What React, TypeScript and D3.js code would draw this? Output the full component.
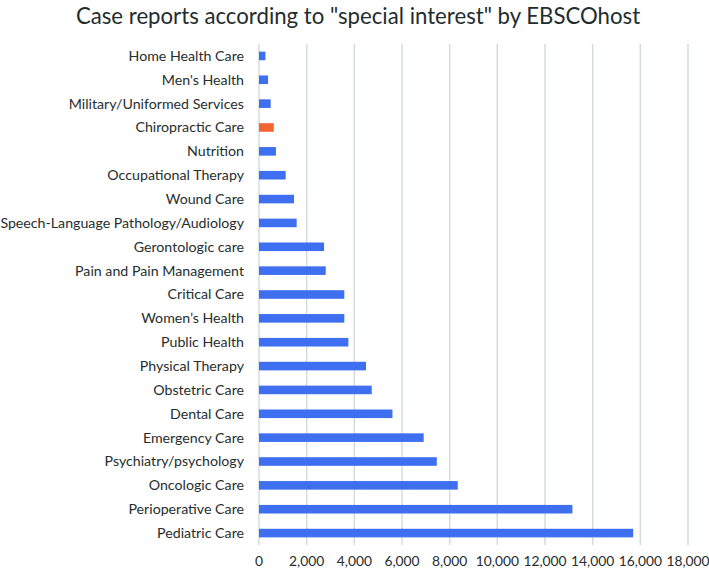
import React from "react";
import * as d3 from "d3";

const categories = [
  "Home Health Care",
  "Men's Health",
  "Military/Uniformed Services",
  "Chiropractic Care",
  "Nutrition",
  "Occupational Therapy",
  "Wound Care",
  "Speech-Language Pathology/Audiology",
  "Gerontologic care",
  "Pain and Pain Management",
  "Critical Care",
  "Women’s Health",
  "Public Health",
  "Physical Therapy",
  "Obstetric Care",
  "Dental Care",
  "Emergency Care",
  "Psychiatry/psychology",
  "Oncologic Care",
  "Perioperative Care",
  "Pediatric Care",
];
const values = [270, 380, 490, 620, 710, 1120, 1470, 1580, 2730, 2800, 3580, 3580, 3750, 4490, 4730, 5600, 6910, 7460, 8340, 13150, 15700];
const highlighted = ["Chiropractic Care"];
const xTicks = [0, 2000, 4000, 6000, 8000, 10000, 12000, 14000, 16000, 18000];
const title = "Case reports according to \"special interest\" by EBSCOhost";

const W = 709;
const H = 572;
const left = 259;
const right = 688;
const top = 44;
const bottom = 545;
const FONT = "Lato, 'Open Sans', sans-serif";

export default function App() {
  const x = d3.scaleLinear().domain([0, 18000]).range([left, right]);
  const y = d3
    .scaleBand<string>()
    .domain(categories)
    .range([top, bottom])
    .paddingInner(0.64)
    .paddingOuter(0.32);
  const fmt = d3.format(",");
  return (
    <svg
      width={W}
      height={H}
      style={{ position: "absolute", left: 0, top: 0, background: "#fff" }}
      fontFamily={FONT}
    >
      <text x={358} y={24} textAnchor="middle" fontSize={22.2} fill="#1f2d2d">
        {title}
      </text>
      {xTicks.map((t) => (
        <line key={t} x1={x(t)} x2={x(t)} y1={top} y2={bottom} stroke="#d5dbdb" strokeWidth={1.5} />
      ))}
      {categories.map((c, i) => (
        <rect
          key={c}
          x={x(0)}
          y={y(c)}
          width={x(values[i]) - x(0)}
          height={y.bandwidth()}
          fill={highlighted.includes(c) ? "#f26430" : "#3d6ff0"}
        />
      ))}
      {categories.map((c) => (
        <text
          key={c}
          x={244}
          y={(y(c) as number) + y.bandwidth() / 2}
          dy="0.35em"
          textAnchor="end"
          fontSize={14.2}
          fill="#262e2e"
        >
          {c}
        </text>
      ))}
      {xTicks.map((t) => (
        <text key={t} x={x(t)} y={561} dy="0.35em" textAnchor="middle" fontSize={13.8} fill="#262e2e">
          {fmt(t)}
        </text>
      ))}
    </svg>
  );
}
